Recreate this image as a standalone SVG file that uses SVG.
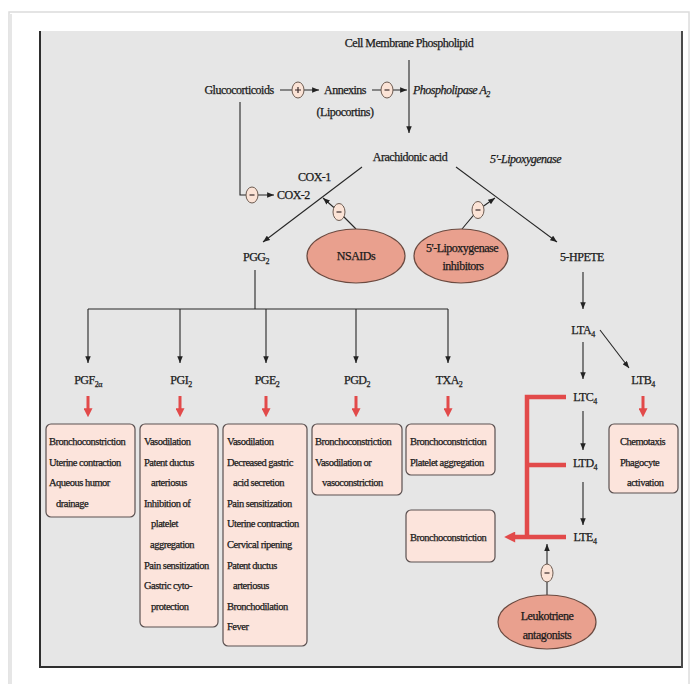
<svg xmlns="http://www.w3.org/2000/svg" width="694" height="684" viewBox="0 0 694 684" font-family="'Liberation Serif', 'Times New Roman', serif">
<style>
.t{font-family:"Liberation Serif","Times New Roman",serif;font-size:12px;letter-spacing:-0.5px;fill:#1a1a1a;stroke:#1a1a1a;stroke-width:0.25px}
.m{text-anchor:middle}
.i{font-style:italic}
.b{font-size:10.5px}
.sub{font-size:8px}
.ln{stroke:#262626;stroke-width:1.1;fill:none}
.red{stroke:#e24a4a;fill:none}
.box{fill:#fce4dc;stroke:#5a5050;stroke-width:1.2}
.ell{fill:#e9a08e;stroke:#6b4a40;stroke-width:1.2}
.inh{fill:#fbe3d6;stroke:#6b5a50;stroke-width:1}
.sym{stroke:#3a2a2a;stroke-width:1.2}
</style>
<defs>
<marker id="ah" viewBox="0 0 10 8" refX="10" refY="4" markerWidth="7" markerHeight="5.5" markerUnits="userSpaceOnUse" orient="auto"><path d="M0,0 L10,4 L0,8 z" fill="#222"/></marker>
<marker id="rh" viewBox="0 0 10 10" refX="2" refY="5" markerWidth="9" markerHeight="9" markerUnits="userSpaceOnUse" orient="auto"><path d="M0,0 L10,5 L0,10 z" fill="#e24a4a"/></marker>
<marker id="rhb" viewBox="0 0 10 10" refX="2" refY="5" markerWidth="13" markerHeight="11" markerUnits="userSpaceOnUse" orient="auto"><path d="M0,0 L10,5 L0,10 z" fill="#e24a4a"/></marker>
</defs>
<rect width="694" height="684" fill="#fff"/>
<rect x="9" y="12" width="680" height="700" fill="#fff" stroke="#dcdcdc" stroke-width="1.5"/>
<line x1="10.5" y1="14" x2="10.5" y2="684" stroke="#e6e6e6" stroke-width="3"/>
<rect x="39" y="31" width="644" height="637" fill="#e6e6e6"/>
<line x1="40" y1="31" x2="40" y2="668" stroke="#2e2e2e" stroke-width="2"/>
<line x1="39" y1="667" x2="683" y2="667" stroke="#2e2e2e" stroke-width="2"/>
<line x1="682" y1="31" x2="682" y2="668" stroke="#4a4a4a" stroke-width="2"/>

<g id="connectors">
<line class="ln" x1="409" y1="60" x2="409" y2="133" marker-end="url(#ah)"/>
<line class="ln" x1="280" y1="90" x2="319" y2="90" marker-end="url(#ah)"/>
<line class="ln" x1="372" y1="90" x2="407" y2="90" marker-end="url(#ah)"/>
<path class="ln" d="M240,102 V195 H274" marker-end="url(#ah)"/>
<line class="ln" x1="362" y1="167" x2="263" y2="242" marker-end="url(#ah)"/>
<line class="ln" x1="456" y1="167" x2="557" y2="242" marker-end="url(#ah)"/>
<path class="ln" d="M356,229 L339,212 L323,198" marker-end="url(#ah)"/>
<path class="ln" d="M462,229 L478,210 L495,198" marker-end="url(#ah)"/>
<path class="ln" d="M255,270 V309"/>
<line class="ln" x1="88" y1="309" x2="448" y2="309"/>
<line class="ln" x1="88" y1="309" x2="88" y2="363" marker-end="url(#ah)"/>
<line class="ln" x1="180" y1="309" x2="180" y2="363" marker-end="url(#ah)"/>
<line class="ln" x1="266" y1="309" x2="266" y2="363" marker-end="url(#ah)"/>
<line class="ln" x1="356" y1="309" x2="356" y2="363" marker-end="url(#ah)"/>
<line class="ln" x1="448" y1="309" x2="448" y2="363" marker-end="url(#ah)"/>
<line class="ln" x1="583" y1="272" x2="583" y2="309" marker-end="url(#ah)"/>
<line class="ln" x1="583" y1="342" x2="583" y2="379" marker-end="url(#ah)"/>
<line class="ln" x1="600" y1="330" x2="629" y2="368" marker-end="url(#ah)"/>
<line class="ln" x1="583" y1="411" x2="583" y2="450" marker-end="url(#ah)"/>
<line class="ln" x1="583" y1="482" x2="583" y2="525" marker-end="url(#ah)"/>
<line class="ln" x1="547" y1="596" x2="547" y2="544" marker-end="url(#ah)"/>
<g class="red" stroke-width="3">
<line x1="88" y1="396" x2="88" y2="410" marker-end="url(#rh)"/>
<line x1="180" y1="396" x2="180" y2="410" marker-end="url(#rh)"/>
<line x1="266" y1="396" x2="266" y2="410" marker-end="url(#rh)"/>
<line x1="356" y1="396" x2="356" y2="410" marker-end="url(#rh)"/>
<line x1="448" y1="396" x2="448" y2="410" marker-end="url(#rh)"/>
<line x1="643" y1="396" x2="643" y2="410" marker-end="url(#rh)"/>
</g>
<g class="red" stroke-width="4.5">
<path d="M566,397 H527 V537"/>
<path d="M527,465 H566"/>
<path d="M566,537 H513" marker-end="url(#rhb)"/>
</g>
<ellipse class="inh" cx="298" cy="90" rx="6" ry="8"/>
<path class="sym" d="M295,90 H301 M298,87 V93"/>
<ellipse class="inh" cx="387" cy="90" rx="6" ry="8"/>
<path class="sym" d="M384.5,90 H389.5"/>
<ellipse class="inh" cx="252" cy="195" rx="6" ry="8"/>
<path class="sym" d="M249.5,195 H254.5"/>
<ellipse class="inh" cx="339" cy="212" rx="6" ry="8.5"/>
<path class="sym" d="M336.5,212 H341.5"/>
<ellipse class="inh" cx="478" cy="210" rx="6" ry="8.5"/>
<path class="sym" d="M475.5,210 H480.5"/>
<ellipse class="inh" cx="547" cy="573" rx="6" ry="9"/>
<path class="sym" d="M544.5,573 H549.5"/>
</g>

<g id="cell-membrane"><text class="t m" x="409" y="47">Cell Membrane Phospholipid</text></g>
<g id="glucocorticoids"><text class="t m" x="239" y="94">Glucocorticoids</text></g>
<g id="annexins"><text class="t m" x="345" y="94">Annexins</text><text class="t m" x="345" y="116">(Lipocortins)</text></g>
<g id="phospholipase"><text class="t i" x="413" y="94">Phospholipase A<tspan class="sub" dy="3">2</tspan></text></g>
<g id="arachidonic"><text class="t m" x="410" y="161">Arachidonic acid</text></g>
<g id="lipoxygenase-label"><text class="t i" x="490" y="163">5'-Lipoxygenase</text></g>
<g id="cox1"><text class="t" x="298" y="181">COX-1</text></g>
<g id="cox2"><text class="t" x="277" y="199">COX-2</text></g>
<g id="pgg2"><text class="t m" x="256" y="261">PGG<tspan class="sub" dy="3">2</tspan></text></g>
<g id="nsaids"><ellipse class="ell" cx="356" cy="256" rx="49" ry="27"/><text class="t m" x="356" y="260">NSAIDs</text></g>
<g id="lox-inhibitors"><ellipse class="ell" cx="461" cy="256" rx="47" ry="27"/><text class="t m" x="462" y="252">5'-Lipoxygenase</text><text class="t m" x="463" y="270">inhibitors</text></g>
<g id="hpete"><text class="t m" x="582" y="261">5-HPETE</text></g>
<g id="lta4"><text class="t m" x="583" y="334">LTA<tspan class="sub" dy="3">4</tspan></text></g>
<g id="ltb4"><text class="t m" x="643" y="384">LTB<tspan class="sub" dy="3">4</tspan></text></g>
<g id="ltc4"><text class="t m" x="585" y="401">LTC<tspan class="sub" dy="3">4</tspan></text></g>
<g id="ltd4"><text class="t m" x="585" y="467">LTD<tspan class="sub" dy="3">4</tspan></text></g>
<g id="lte4"><text class="t m" x="585" y="541">LTE<tspan class="sub" dy="3">4</tspan></text></g>

<g id="pgf2a"><text class="t m" x="88" y="384">PGF<tspan class="sub" dy="3">2α</tspan></text></g>
<g id="pgi2"><text class="t m" x="181" y="384">PGI<tspan class="sub" dy="3">2</tspan></text></g>
<g id="pge2"><text class="t m" x="267" y="384">PGE<tspan class="sub" dy="3">2</tspan></text></g>
<g id="pgd2"><text class="t m" x="357" y="384">PGD<tspan class="sub" dy="3">2</tspan></text></g>
<g id="txa2"><text class="t m" x="449" y="384">TXA<tspan class="sub" dy="3">2</tspan></text></g>

<g id="box-pgf2a"><rect class="box" x="46" y="424" width="89" height="93" rx="5"/>
<text class="t b" x="49" y="445">Bronchoconstriction</text>
<text class="t b" x="49" y="465.6">Uterine contraction</text>
<text class="t b" x="49" y="486.2">Aqueous humor</text>
<text class="t b" x="56" y="506.8">drainage</text></g>
<g id="box-pgi2"><rect class="box" x="140" y="424" width="78" height="203" rx="5"/>
<text class="t b" x="144" y="445">Vasodilation</text>
<text class="t b" x="144" y="465.6">Patent ductus</text>
<text class="t b" x="151" y="486.2">arteriosus</text>
<text class="t b" x="144" y="506.8">Inhibition of</text>
<text class="t b" x="151" y="527.4">platelet</text>
<text class="t b" x="150" y="548">aggregation</text>
<text class="t b" x="144" y="568.6">Pain sensitization</text>
<text class="t b" x="144" y="589.2">Gastric cyto-</text>
<text class="t b" x="151" y="609.8">protection</text></g>
<g id="box-pge2"><rect class="box" x="223" y="424" width="84" height="222" rx="5"/>
<text class="t b" x="227" y="445">Vasodilation</text>
<text class="t b" x="227" y="465.6">Decreased gastric</text>
<text class="t b" x="233" y="486.2">acid secretion</text>
<text class="t b" x="227" y="506.8">Pain sensitization</text>
<text class="t b" x="227" y="527.4">Uterine contraction</text>
<text class="t b" x="227" y="548">Cervical ripening</text>
<text class="t b" x="227" y="568.6">Patent ductus</text>
<text class="t b" x="233" y="589.2">arteriosus</text>
<text class="t b" x="227" y="609.8">Bronchodilation</text>
<text class="t b" x="227" y="630.4">Fever</text></g>
<g id="box-pgd2"><rect class="box" x="312" y="424" width="90" height="71" rx="5"/>
<text class="t b" x="315" y="445">Bronchoconstriction</text>
<text class="t b" x="315" y="465.6">Vasodilation or</text>
<text class="t b" x="322" y="486.2">vasoconstriction</text></g>
<g id="box-txa2"><rect class="box" x="406" y="424" width="89" height="51" rx="5"/>
<text class="t b" x="410" y="445">Bronchoconstriction</text>
<text class="t b" x="410" y="465.6">Platelet aggregation</text></g>
<g id="box-ltb4"><rect class="box" x="609" y="424" width="69" height="69" rx="5"/>
<text class="t b" x="620" y="445">Chemotaxis</text>
<text class="t b" x="620" y="465.6">Phagocyte</text>
<text class="t b" x="627" y="486.2">activation</text></g>
<g id="box-leukotriene"><rect class="box" x="406" y="510" width="89" height="52" rx="5"/>
<text class="t b" x="410" y="541">Bronchoconstriction</text></g>
<g id="leukotriene-antagonists"><ellipse class="ell" cx="547" cy="622" rx="49" ry="27"/>
<text class="t m" x="547" y="620">Leukotriene</text>
<text class="t m" x="547" y="639">antagonists</text></g>
</svg>
